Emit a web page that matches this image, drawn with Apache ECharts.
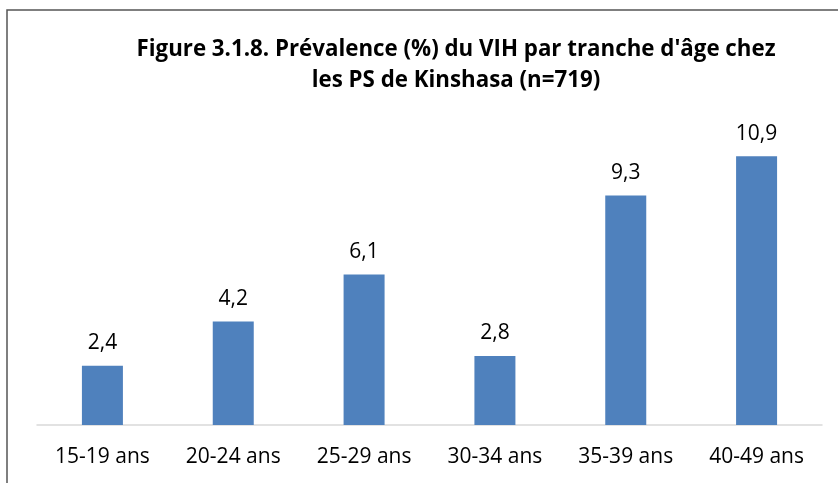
<!DOCTYPE html>
<html>
<head>
<meta charset="utf-8">
<script src="https://cdn.jsdelivr.net/npm/echarts@6/dist/echarts.min.js"></script>
<style>
  html, body { margin: 0; padding: 0; background: #fff; }
  #main { width: 838px; height: 483px; }
</style>
</head>
<body>
<div id="main"></div>
<script>
var categories = ['15-19 ans', '20-24 ans', '25-29 ans', '30-34 ans', '35-39 ans', '40-49 ans'];
var prevalence = [2.4, 4.2, 6.1, 2.8, 9.3, 10.9];
var titleText = "Figure 3.1.8. Prévalence (%) du VIH par tranche d'âge chez\nles PS de Kinshasa (n=719)";

var myChart = echarts.init(document.getElementById('main'));
var option = {
    animation: false,
    title: {
        text: titleText,
        left: 451,
        top: 29,
        textAlign: 'center',
        textStyle: {
            fontFamily: 'Open Sans',
            fontWeight: 'bold',
            fontSize: 22.3,
            lineHeight: 31,
            color: '#000'
        }
    },
    graphic: [
        {
            type: 'polyline',
            shape: { points: [[7, 483], [7, 10], [838, 10]] },
            style: { stroke: '#555', lineWidth: 1.5, fill: null }
        }
    ],
    grid: {
        left: 37,
        right: 16,
        top: 129,
        bottom: 58
    },
    xAxis: {
        type: 'category',
        data: categories,
        axisLine: { lineStyle: { color: '#d9d9d9', width: 1.5 } },
        axisTick: { show: false },
        axisLabel: {
            fontFamily: 'Open Sans',
            fontSize: 21,
            color: '#000',
            margin: 22
        }
    },
    yAxis: {
        type: 'value',
        min: 0,
        max: 12,
        show: false
    },
    series: [
        {
            type: 'bar',
            data: prevalence,
            barWidth: 41,
            itemStyle: { color: '#4f81bd' },
            label: {
                show: true,
                position: 'top',
                distance: 12,
                fontFamily: 'Open Sans',
                fontSize: 21,
                color: '#000',
                formatter: function (p) {
                    return p.value.toFixed(1).replace('.', ',');
                }
            }
        }
    ]
};
myChart.setOption(option);
</script>
</body>
</html>
